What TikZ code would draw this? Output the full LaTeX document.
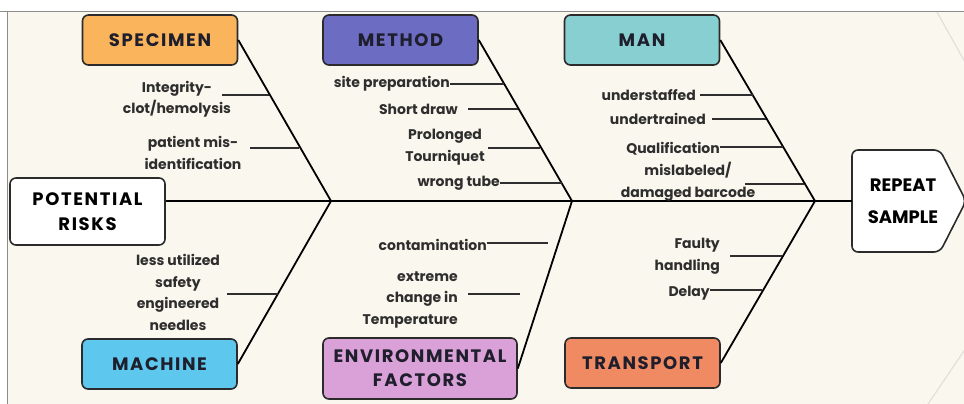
\documentclass[tikz,border=0pt]{standalone}
\usepackage{fontspec}
\setmainfont{Poppins}
\newfontfamily\headfont{Poppins}[LetterSpace=9]
\definecolor{cream}{HTML}{FAF7EE}
\definecolor{frame}{HTML}{8C8C8C}
\definecolor{ghost}{HTML}{E2E0D8}
\definecolor{boxline}{HTML}{2B2B2B}
\definecolor{headtxt}{HTML}{1E1E2C}
\definecolor{labtxt}{HTML}{2E2E2E}
\definecolor{specimen}{HTML}{F9B45C}
\definecolor{method}{HTML}{6C6CC2}
\definecolor{man}{HTML}{88CFD1}
\definecolor{machine}{HTML}{5DC7EE}
\definecolor{environ}{HTML}{D9A1D8}
\definecolor{transport}{HTML}{F08A62}
\begin{document}
\begin{tikzpicture}[x=1pt,y=-1pt,
        cat/.style={draw=boxline,line width=1.6pt,rounded corners=6pt,minimum width=155pt,minimum height=50pt,
                font=\headfont\fontsize{18}{24}\selectfont\bfseries,text=headtxt,align=center},
        cause/.style={font=\fontsize{14}{21.5}\selectfont\bfseries,text=labtxt,align=center,inner sep=0pt},
        bone/.style={line width=1.8pt,black},
        twig/.style={line width=1.6pt,labtxt}]
    \useasboundingbox (0,0) rectangle (964,404);
    \fill[cream] (7,12) rectangle (964,404);
    \draw[frame,line width=1pt] (0,12) -- (964,12) (7,12) -- (7,404);
    \draw[ghost,line width=1.2pt] (937,12) -- (966,64) (966,348) -- (928,404);

    \node[cat,fill=specimen] (spec) at (160,40) {SPECIMEN};
    \node[cat,fill=method] (meth) at (400.5,40) {METHOD};
    \node[cat,fill=man] (man) at (642,40) {MAN};
    \node[cat,fill=white,minimum height=67pt,text=black] (risk) at (87.5,211.5) {POTENTIAL\\[1pt]RISKS};
    \node[cat,fill=machine] (mach) at (159.5,364) {MACHINE};
    \node[cat,fill=environ,minimum width=194pt,minimum height=61pt] (env) at (420,368.5) {ENVIRONMENTAL\\FACTORS};
    \node[cat,fill=transport] (trans) at (642.5,363) {TRANSPORT};

    \draw[draw=boxline,line width=1.6pt,fill=white,rounded corners=6pt]
        (852,150) -- (940,150) -- (966,201) -- (940,252) -- (852,252) -- cycle;
    \node[font=\fontsize{18}{32}\selectfont\bfseries,text=black,align=center] (repeat) at (903,201) {REPEAT\\SAMPLE};

    \coordinate (rs) at (852,201);
    \coordinate (j1) at (331,201);
    \coordinate (j2) at (572,201);
    \coordinate (j3) at (815,201);
    \draw[bone] (risk.east |- j1) -- (rs);
    \foreach \a/\b in {spec/j1, mach/j1, meth/j2, env/j2, man/j3, trans/j3}
        \draw[bone] (\a.east) -- (\b);

    \foreach \n/\xa/\xb/\y in {sa/222/269/95, sb/250/299/148, ma/450/504/84, mb/468/518/109, mc/488/540/148,
            md/500/562/183, na/700/753/95, nb/712/766/119, nc/720/783/147, nd/745/804/184,
            ka/227/278/294, ea/487/548/243, eb/468/520/294, ta/730/782/256, tb/710/762/290} {
            \coordinate (\n0) at (\xa,\y);
            \coordinate (\n1) at (\xb,\y);
            \draw[twig] (\n0) -- (\n1);
        }

    \node[cause] (lsa) at (177,99) {Integrity-\\clot/hemolysis};
    \node[cause] (lsb) at (193,153) {patient mis-\\identification};
    \node[cause,anchor=east] (lma) at (450,84) {site preparation};
    \node[cause,anchor=east] (lmb) at (458,109) {Short draw};
    \node[cause] (lmc) at (445,147) {Prolonged\\Tourniquet};
    \node[cause,anchor=east] (lmd) at (500,183) {wrong tube};
    \node[cause,anchor=east] (lna) at (696,95) {understaffed};
    \node[cause,anchor=east] (lnb) at (706,119) {undertrained};
    \node[cause,anchor=east] (lnc) at (720,149) {Qualification};
    \node[cause] (lnd) at (688,182) {mislabeled/\\damaged barcode};
    \node[cause] (lka) at (178,292.5) {less utilized\\safety\\engineered\\needles};
    \node[cause,anchor=east] (lea) at (487,245) {contamination};
    \node[cause,anchor=east,align=right] (leb) at (458,300) {extreme\\change in\\Temperature};
    \node[cause,anchor=east,align=right] (lta) at (720,256) {Faulty\\handling};
    \node[cause,anchor=east] (ltb) at (710,293) {Delay};
\end{tikzpicture}
\end{document}
